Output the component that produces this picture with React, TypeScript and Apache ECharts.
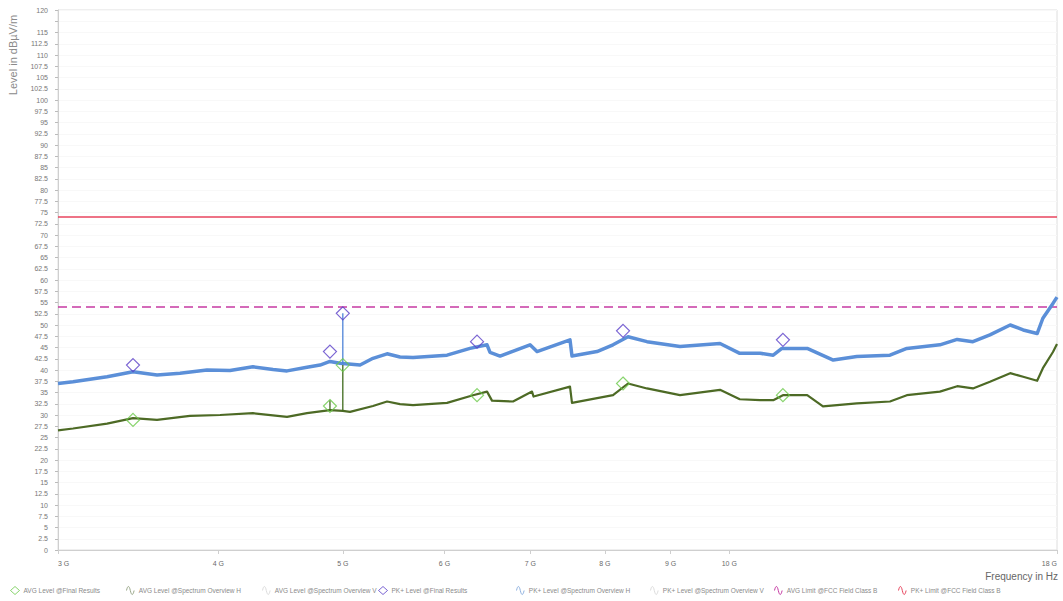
import React, { useEffect, useRef } from "react";
import * as echarts from "echarts";

// ---- data (frequencies in GHz, levels in dBµV/m) ----
const xTickFreqs = [3, 4, 5, 6, 7, 8, 9, 10, 18];
const yMin = 0;
const yMax = 120;
const yStep = 2.5;

const pkTraceFreq = [3.0, 3.082, 3.276, 3.432, 3.583, 3.734, 3.919, 4.084, 4.256, 4.412, 4.524, 4.689, 4.8, 4.886, 4.975, 5.157, 5.278, 5.413, 5.54, 5.671, 6.028, 6.281, 6.476, 6.511, 6.629, 6.995, 7.083, 7.515, 7.542, 7.888, 8.118, 8.339, 8.628, 9.154, 9.835, 10.19, 10.57, 10.82, 10.99, 11.5, 12.05, 12.57, 13.34, 13.75, 14.59, 15.05, 15.48, 15.96, 16.55, 16.94, 17.37, 17.55, 17.87, 18.0];
const pkTraceLevel = [37.0, 37.4, 38.5, 39.6, 38.9, 39.3, 40.0, 39.9, 40.7, 40.1, 39.8, 40.6, 41.1, 41.9, 41.5, 41.1, 42.6, 43.6, 42.9, 42.8, 43.3, 44.8, 45.6, 43.9, 43.1, 45.6, 44.1, 46.7, 43.1, 44.1, 45.6, 47.4, 46.3, 45.2, 45.9, 43.7, 43.7, 43.3, 44.8, 44.8, 42.2, 43.0, 43.3, 44.8, 45.6, 46.8, 46.3, 47.8, 50.0, 48.9, 48.1, 51.5, 54.8, 56.2];

const avgTraceFreq = [3.0, 3.082, 3.276, 3.432, 3.583, 3.801, 4.012, 4.256, 4.524, 4.689, 4.886, 5.0, 5.065, 5.278, 5.413, 5.54, 5.671, 6.028, 6.315, 6.476, 6.534, 6.785, 7.02, 7.04, 7.515, 7.542, 8.118, 8.339, 8.628, 9.154, 9.835, 10.19, 10.57, 10.82, 11.01, 11.5, 11.83, 12.57, 13.34, 13.75, 14.59, 15.05, 15.48, 15.96, 16.55, 16.94, 17.37, 17.55, 17.87, 18.0];
const avgTraceLevel = [26.6, 27.0, 28.1, 29.3, 28.9, 29.8, 30.0, 30.4, 29.6, 30.4, 31.1, 30.9, 30.7, 32.0, 33.0, 32.4, 32.2, 32.7, 34.4, 35.2, 33.2, 33.0, 35.2, 34.1, 36.3, 32.7, 34.4, 37.0, 35.9, 34.4, 35.6, 33.5, 33.3, 33.3, 34.4, 34.4, 31.9, 32.6, 33.0, 34.4, 35.2, 36.4, 35.9, 37.4, 39.3, 38.5, 37.6, 40.4, 44.0, 45.8];

const finalFreq = [3.432, 4.886, 5.0, 6.361, 8.265, 11.01];
const pkFinalLevel = [41.1, 44.1, 52.6, 46.3, 48.7, 46.7];
const avgFinalLevel = [28.9, 32.0, 41.1, 34.4, 37.0, 34.4];

const limitFreq = [3, 18];
const pkLimit = [74, 74];
const avgLimit = [54, 54];

const pkSpikeFreq = [5.0];
const pkSpikeFrom = [41.3];
const pkSpikeTo = [52.6];
const avgSpikeFreq = [4.886, 5.0];
const avgSpikeFrom = [31.0, 30.9];
const avgSpikeTo = [33.3, 41.1];

const legendNames = [
  "AVG Level @Final Results",
  "AVG Level @Spectrum Overview H",
  "AVG Level @Spectrum Overview V",
  "PK+ Level @Final Results",
  "PK+ Level @Spectrum Overview H",
  "PK+ Level @Spectrum Overview V",
  "AVG Limit @FCC Field Class B",
  "PK+ Limit @FCC Field Class B",
];

const lg = (v: number) => Math.log10(v);
const FONT = "'Liberation Sans', Arial, sans-serif";

const WAVE = "path://M0,6 C1.5,-1 3.5,-1 5,6 C6.5,13 8.5,13 10,6";

export default function App() {
  const ref = useRef<HTMLDivElement>(null);
  useEffect(() => {
    document.body.style.margin = "0";
    if (!ref.current) return;
    const chart = echarts.init(ref.current, undefined, { renderer: "svg" });

    const pairs = (fs: number[], vs: number[]) => fs.map((f, i) => [lg(f), vs[i]]);

    const colors = {
      avgFinal: "#6cc94a",
      avgH: "#4d6a25",
      avgV: "#c8c8c8",
      pkFinal: "#5a3ec8",
      pkH: "#5b8fd8",
      pkV: "#c8c8c8",
      avgLimit: "#c63aa3",
      pkLimit: "#e8455e",
    };

    const legendLefts = [10, 126, 262, 378, 516, 650, 774, 898];
    const legendIcons = [
      { icon: "diamond", c: colors.avgFinal },
      { icon: WAVE, c: "#9aa88a" },
      { icon: WAVE, c: "#dddddd" },
      { icon: "diamond", c: colors.pkFinal },
      { icon: WAVE, c: "#8fb2e0" },
      { icon: WAVE, c: "#dddddd" },
      { icon: WAVE, c: colors.avgLimit },
      { icon: WAVE, c: colors.pkLimit },
    ];

    const legends = legendNames.map((n, i) => ({
      data: [
        {
          name: n,
          icon: legendIcons[i].icon,
          itemStyle: {
            color: "rgba(255,255,255,0)",
            borderColor: legendIcons[i].c,
            borderWidth: 1,
          },
        },
      ],
      left: legendLefts[i],
      top: 586,
      padding: 0,
      itemWidth: 9,
      itemHeight: 8,
      itemGap: 0,
      selectedMode: false,
      textStyle: { fontSize: 6.5, color: "#8a8a8a", fontFamily: FONT, padding: [0, 0, 0, -1] },
    }));

    const spikeSeries: any[] = [];
    pkSpikeFreq.forEach((f, i) => {
      spikeSeries.push({
        type: "line",
        data: [[lg(f), pkSpikeFrom[i]], [lg(f), pkSpikeTo[i]]],
        symbol: "none",
        lineStyle: { color: "#4f84d8", width: 1.3 },
        z: 3,
        silent: true,
      });
    });
    avgSpikeFreq.forEach((f, i) => {
      spikeSeries.push({
        type: "line",
        data: [[lg(f), avgSpikeFrom[i]], [lg(f), avgSpikeTo[i]]],
        symbol: "none",
        lineStyle: { color: "#3f6a1c", width: 1.3 },
        z: 4,
        silent: true,
      });
    });

    const option: any = {
      animation: false,
      backgroundColor: "#ffffff",
      textStyle: { fontFamily: FONT },
      grid: {
        left: 58,
        right: 6,
        top: 10,
        bottom: 51,
        show: true,
        borderColor: "#dedede",
        borderWidth: 1,
      },
      legend: legends,
      xAxis: {
        type: "value",
        min: lg(3),
        max: lg(18),
        axisLine: { show: true, lineStyle: { color: "#cfcfcf" } },
        axisTick: {
          show: true,
          customValues: xTickFreqs.map(lg),
          length: 4,
          lineStyle: { color: "#cfcfcf" },
        },
        axisLabel: {
          customValues: xTickFreqs.map(lg),
          formatter: (v: number) => Math.round(Math.pow(10, v)) + " G",
          fontSize: 7,
          color: "#6a6a6a",
          margin: 10,
          alignMinLabel: "left",
          alignMaxLabel: "right",
        },
        splitLine: { show: false },
      },
      yAxis: {
        type: "value",
        min: yMin,
        max: yMax,
        interval: yStep,
        axisLine: { show: true, lineStyle: { color: "#cfcfcf" } },
        axisTick: { show: true, length: 3, lineStyle: { color: "#bbbbbb" } },
        axisLabel: {
          fontSize: 7,
          color: "#777777",
          margin: 10,
          formatter: (v: number) => (Math.abs(v - 117.5) < 0.01 ? "" : String(v)),
        },
        splitLine: { show: true, lineStyle: { color: "#f8f8f8" } },
      },
      graphic: [
        {
          type: "text",
          x: 13,
          y: 55,
          rotation: Math.PI / 2,
          style: {
            text: "Level in dBµV/m",
            fontSize: 11,
            fill: "#8a8a8a",
            fontFamily: FONT,
            align: "center",
            verticalAlign: "middle",
          },
        },
        {
          type: "text",
          right: 5,
          top: 571,
          style: {
            text: "Frequency in Hz",
            fontSize: 10,
            fill: "#666666",
            fontFamily: FONT,
          },
        },
      ],
      series: [
        {
          name: legendNames[7],
          type: "line",
          data: pairs(limitFreq, pkLimit),
          symbol: "none",
          lineStyle: { color: colors.pkLimit, width: 1.5 },
          itemStyle: { color: colors.pkLimit },
          z: 2,
        },
        {
          name: legendNames[6],
          type: "line",
          data: pairs(limitFreq, avgLimit),
          symbol: "none",
          lineStyle: { color: colors.avgLimit, width: 1.6, type: [9, 5] },
          itemStyle: { color: colors.avgLimit },
          z: 2,
        },
        {
          name: legendNames[5],
          type: "line",
          data: [],
          symbol: "none",
          lineStyle: { color: colors.pkV, width: 1 },
          itemStyle: { color: colors.pkV },
        },
        {
          name: legendNames[4],
          type: "line",
          data: pairs(pkTraceFreq, pkTraceLevel),
          symbol: "none",
          lineStyle: { color: colors.pkH, width: 3.5, join: "round" },
          itemStyle: { color: colors.pkH },
          z: 2,
        },
        {
          name: legendNames[2],
          type: "line",
          data: [],
          symbol: "none",
          lineStyle: { color: colors.avgV, width: 1 },
          itemStyle: { color: colors.avgV },
        },
        {
          name: legendNames[1],
          type: "line",
          data: pairs(avgTraceFreq, avgTraceLevel),
          symbol: "none",
          lineStyle: { color: colors.avgH, width: 2.2, join: "round" },
          itemStyle: { color: colors.avgH },
          z: 3,
        },
        ...spikeSeries,
        {
          name: legendNames[3],
          type: "scatter",
          data: pairs(finalFreq, pkFinalLevel),
          symbol: "diamond",
          symbolSize: 13,
          itemStyle: { color: "rgba(255,255,255,0)", borderColor: colors.pkFinal, borderWidth: 1.2 },
          z: 6,
        },
        {
          name: legendNames[0],
          type: "scatter",
          data: pairs(finalFreq, avgFinalLevel),
          symbol: "diamond",
          symbolSize: 13,
          itemStyle: { color: "rgba(255,255,255,0)", borderColor: colors.avgFinal, borderWidth: 1.2 },
          z: 6,
        },
      ],
    };

    chart.setOption(option);
    return () => chart.dispose();
  }, []);

  return <div ref={ref} style={{ width: 1063, height: 601 }} />;
}
